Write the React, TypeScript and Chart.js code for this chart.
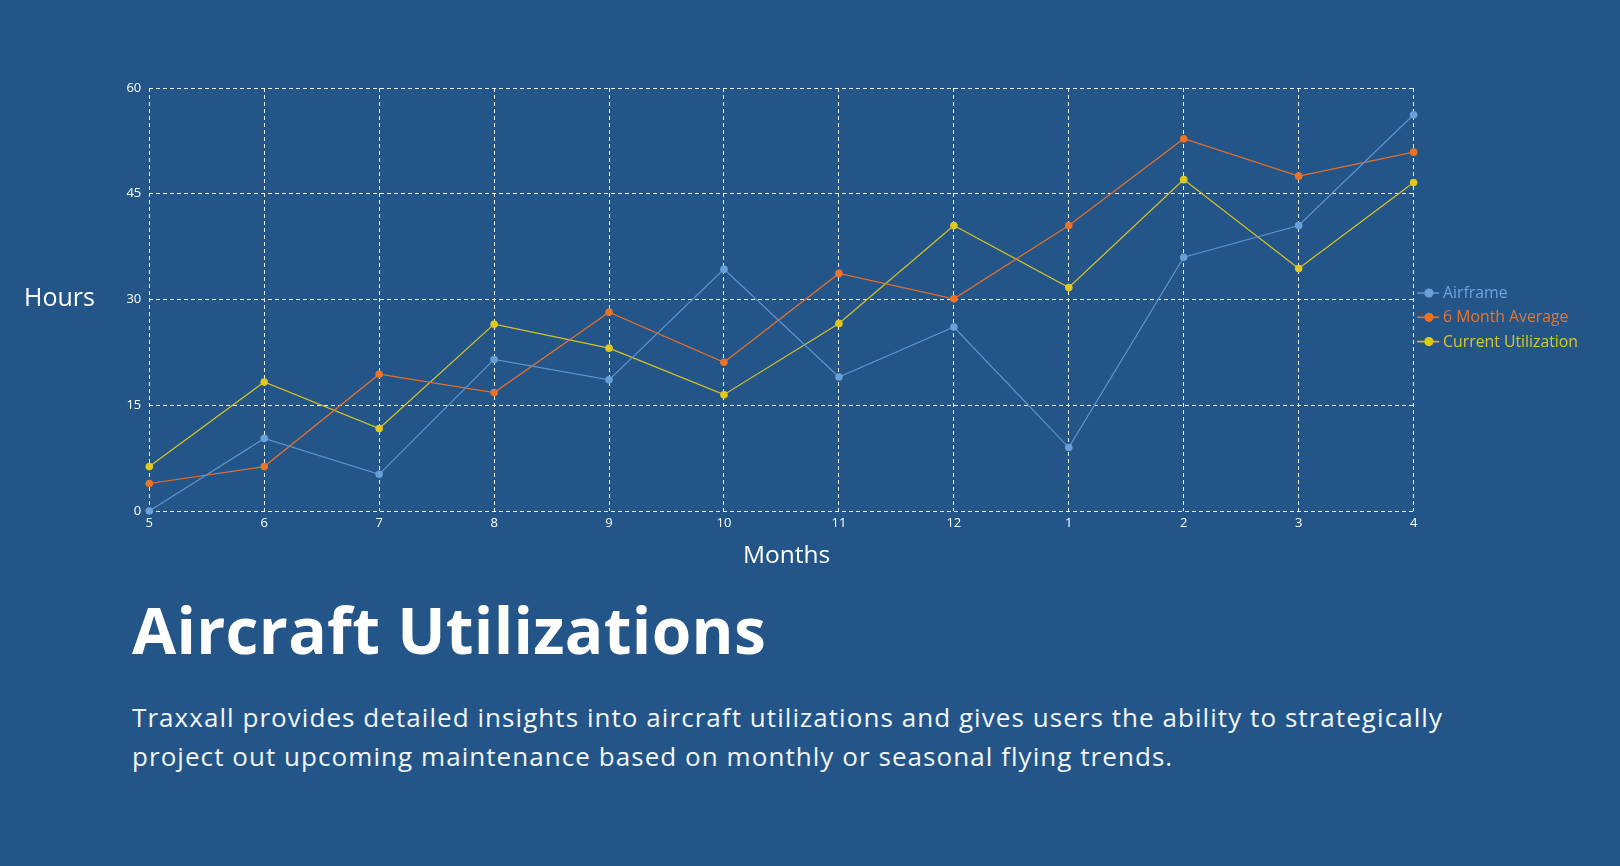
import React, { useEffect, useRef } from 'react';
import { Chart, registerables } from 'chart.js';

Chart.register(...registerables);

// ---- data ----
const months = ['5', '6', '7', '8', '9', '10', '11', '12', '1', '2', '3', '4'];
const airframe = [0, 10.3, 5.2, 21.5, 18.6, 34.3, 19.0, 26.1, 9.0, 36.0, 40.5, 56.2];
const sixMonthAverage = [3.9, 6.3, 19.4, 16.8, 28.2, 21.1, 33.7, 30.1, 40.5, 52.8, 47.5, 50.9];
const currentUtilization = [6.3, 18.3, 11.7, 26.5, 23.1, 16.5, 26.6, 40.5, 31.7, 47.0, 34.4, 46.6];
const yTicks = [0, 15, 30, 45, 60];
const seriesNames = ['Airframe', '6 Month Average', 'Current Utilization'];

// ---- style ----
const BG = '#235588';
const FONT = '"Open Sans", "Noto Sans", sans-serif';
const lineColors = ['#5f95cd', '#e5702a', '#d9c324'];
const pointColors = ['#6aa0d8', '#ee7226', '#e0c820'];
const legendTextColors = ['#6ea3da', '#ea742c', '#d9c62c'];
const GRID = 'rgba(255,255,255,0.92)';

const sideLegend = {
  id: 'sideLegend',
  afterDraw(chart: any) {
    const { ctx, chartArea } = chart;
    ctx.save();
    ctx.font = `15.8px ${FONT}`;
    ctx.textBaseline = 'middle';
    chart.data.datasets.forEach((ds: any, i: number) => {
      const y = chartArea.top + 205 + i * 24.3;
      const x0 = chartArea.right + 3.5;
      ctx.strokeStyle = ds.borderColor;
      ctx.lineWidth = 1.6;
      ctx.beginPath();
      ctx.moveTo(x0, y);
      ctx.lineTo(x0 + 22, y);
      ctx.stroke();
      ctx.fillStyle = ds.pointBackgroundColor;
      ctx.beginPath();
      ctx.arc(x0 + 11.8, y, 4.6, 0, Math.PI * 2);
      ctx.fill();
      ctx.fillStyle = legendTextColors[i];
      ctx.fillText(ds.label, x0 + 26, y + 0.5);
    });
    ctx.restore();
  },
};

export default function App() {
  const canvasRef = useRef<HTMLCanvasElement | null>(null);
  const titleRef = useRef<HTMLSpanElement | null>(null);
  const line1Ref = useRef<HTMLSpanElement | null>(null);
  const line2Ref = useRef<HTMLSpanElement | null>(null);

  useEffect(() => {
    document.body.style.margin = '0';
    document.body.style.background = BG;

    // fit text widths to the reference
    const fits: [HTMLSpanElement | null, number][] = [
      [titleRef.current, 634],
      [line1Ref.current, 1311],
    ];
    let line1Spacing = 0;
    fits.forEach(([el, target], idx) => {
      if (!el) return;
      el.style.letterSpacing = '0px';
      const w = el.getBoundingClientRect().width;
      const n = (el.textContent || '').length;
      const ls = (target - w) / n;
      el.style.letterSpacing = ls + 'px';
      if (idx === 1) line1Spacing = ls;
    });
    if (line2Ref.current) line2Ref.current.style.letterSpacing = line1Spacing + 'px';

    const datasets = [airframe, sixMonthAverage, currentUtilization].map((d, i) => ({
      label: seriesNames[i],
      data: d,
      borderColor: lineColors[i],
      backgroundColor: pointColors[i],
      pointBackgroundColor: pointColors[i],
      pointBorderColor: pointColors[i],
      pointBorderWidth: 0,
      pointRadius: 3.8,
      borderWidth: 1.2,
      tension: 0,
      fill: false,
      clip: false as any,
    }));

    const chart = new Chart(canvasRef.current as HTMLCanvasElement, {
      type: 'line',
      data: { labels: months, datasets },
      options: {
        responsive: false,
        maintainAspectRatio: false,
        animation: false,
        events: [],
        layout: { padding: { left: 0, top: 88, right: 206.4, bottom: 0 } },
        plugins: {
          legend: { display: false },
          tooltip: { enabled: false },
        },
        scales: {
          x: {
            offset: false,
            grid: { color: GRID, lineWidth: 1, drawTicks: false },
            border: { display: false, dash: [4, 3] },
            ticks: {
              color: '#ffffff',
              font: { family: FONT, size: 13 },
              padding: 4,
              maxRotation: 0,
              autoSkip: false,
            },
            afterFit: (s: any) => {
              s.height = 34;
            },
          },
          y: {
            min: 0,
            max: 60,
            grid: { color: GRID, lineWidth: 1, drawTicks: false },
            border: { display: false, dash: [4, 3] },
            ticks: {
              color: '#ffffff',
              font: { family: FONT, size: 13 },
              padding: 8,
            },
            afterBuildTicks: (s: any) => {
              s.ticks = yTicks.map((v) => ({ value: v }));
            },
            afterFit: (s: any) => {
              s.width = 149.3;
            },
          },
        },
      },
      plugins: [sideLegend],
    });
    return () => chart.destroy();
  }, []);

  const abs: React.CSSProperties = { position: 'absolute', whiteSpace: 'nowrap', color: '#ffffff' };

  return (
    <div style={{ position: 'relative', width: 1620, height: 866, background: BG, overflow: 'hidden', fontFamily: FONT }}>
      <canvas
        ref={canvasRef}
        width={1620}
        height={545}
        style={{ position: 'absolute', left: 0, top: 0, width: 1620, height: 545, display: 'block' }}
      />
      <div style={{ ...abs, left: 24, top: 284, fontSize: 25, lineHeight: '25px' }}>Hours</div>
      <div style={{ ...abs, left: 743, top: 542, fontSize: 24.5, lineHeight: '24.5px' }}>Months</div>
      <div style={{ ...abs, left: 132, top: 598, fontSize: 64, lineHeight: '64px', fontWeight: 700 }}>
        <span ref={titleRef} style={{ display: 'inline-block' }}>Aircraft Utilizations</span>
      </div>
      <div style={{ ...abs, left: 132, top: 698, fontSize: 26, lineHeight: '39px', color: '#f2f5f9' }}>
        <span ref={line1Ref} style={{ display: 'inline-block' }}>
          Traxxall provides detailed insights into aircraft utilizations and gives users the ability to strategically
        </span>
        <br />
        <span ref={line2Ref} style={{ display: 'inline-block' }}>
          project out upcoming maintenance based on monthly or seasonal flying trends.
        </span>
      </div>
    </div>
  );
}
